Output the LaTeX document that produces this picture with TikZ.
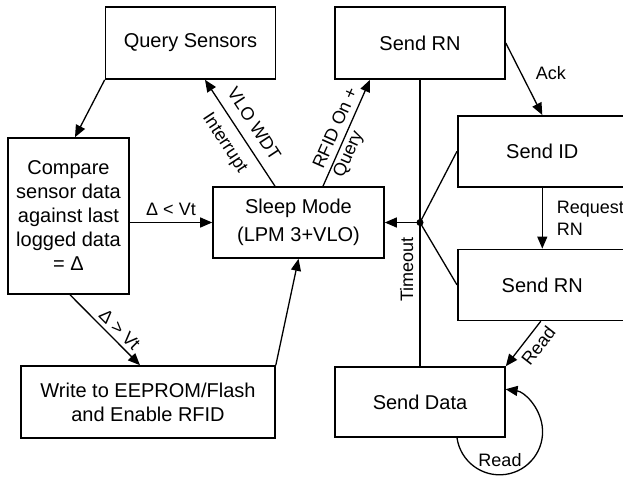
\documentclass[tikz,border=0pt]{standalone}
\usepackage{fontspec}
\setmainfont{Liberation Sans}
\usepackage{tikz}
\usetikzlibrary{positioning,arrows.meta,calc}
\newcommand{\statefont}{\fontsize{20}{24}\selectfont}
\newcommand{\edgefont}{\fontsize{18}{22}\selectfont}

\begin{document}
\begin{tikzpicture}[
          x=1pt,y=-1pt,
          state/.style={draw,line width=1.6pt,minimum width=170pt,minimum height=72pt,
                        align=center,font=\statefont,inner sep=2pt},
          lbl/.style={font=\edgefont,inner sep=2pt},
          flow/.style={line width=1.3pt,-{Triangle[length=12pt,width=10pt]}},
          wire/.style={line width=1.3pt}
          ]
          \useasboundingbox (0,0) rectangle (623,479);

          % the sensing side
          \node[state] (query) at (190.5,43) {Query Sensors};
          \node[state,minimum width=121pt,minimum height=156pt] (compare) at (68.5,216)
               {Compare\\sensor data\\against last\\logged data\\= Δ};
          \node[state,minimum width=171pt,minimum height=71pt] (sleep) at (298.5,222.5)
               {Sleep Mode\\[4pt](LPM 3+VLO)};
          \node[state,minimum width=254pt] (write) at (148,402)
               {Write to EEPROM/Flash\\and Enable RFID};

          % the RFID side
          \node[state] (rn) at (420,43) {Send RN};
          \node[state,minimum width=169pt,minimum height=71pt,anchor=north west] (sendid) at (457,115) {Send ID};
          \node[state,minimum width=169pt,minimum height=71pt,below=61pt of sendid] (rn2) {Send RN};
          \node[state,minimum height=70pt] (data) at (420,402) {Send Data};
          \node[circle,fill,inner sep=0pt,minimum size=7pt] (hub) at (420,222.5) {};

          % the edges of the sensing side
          \draw[flow] (query.south west) -- ([xshift=6.5pt]compare.north);
          \draw[flow] (compare.east |- sleep.west) -- node[lbl,above=4pt] {Δ < Vt} (sleep.west);
          \draw[flow] ([xshift=1.5pt]compare.south) -- node[lbl,sloped,above=2pt,pos=0.6] {Δ > Vt} ([xshift=-8pt]write.north);
          \draw[flow] (write.north east) -- (sleep.south);
          \draw[flow] ([xshift=-23.5pt]sleep.north) -- node[lbl,sloped,above=8pt] {VLO WDT}
                node[lbl,sloped,below=8pt] {Interrupt} ([xshift=14.5pt]query.south);
          \draw[flow] ([xshift=24.5pt]sleep.north) -- node[lbl,sloped,align=left] {RFID On +\\Query} ([xshift=-50pt]rn.south);

          % the edges of the RFID side
          \draw[flow] (rn.east) -- node[lbl,pos=0.42,right=12pt] {Ack} (sendid.north);
          \draw[flow] (sendid.south) -- node[lbl,right=12pt,align=left] {Request\\RN} (rn2.north);
          \draw[flow] ([xshift=-1.5pt]rn2.south) -- node[lbl,sloped,below=4pt,pos=0.37] {Read} (data.north east);
          \draw[flow] ([xshift=37pt]data.south) arc[start angle=188,end angle=442,radius=43pt];
          \node[lbl] (readloop) at (500,460) {Read};
          \draw[wire] (data.north) -- node[lbl,sloped,above=4pt,pos=0.337] {Timeout} (rn.south);
          \draw[flow] (hub.center) -- (sleep.east);
          \foreach \t in {sendid,rn2}
            \draw[wire] (hub.center) -- (\t.west);
        \end{tikzpicture}
\end{document}
